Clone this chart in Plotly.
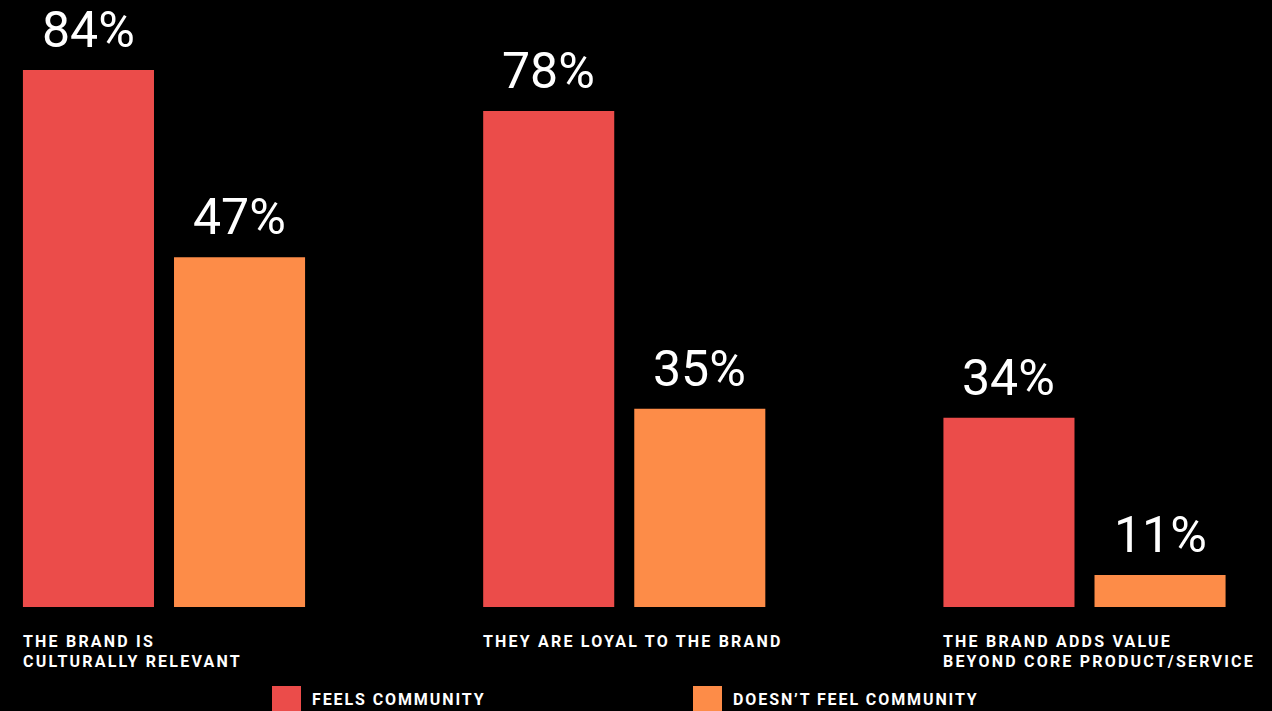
import plotly.graph_objects as go

categories = ["THE BRAND IS<br>CULTURALLY RELEVANT",
              "THEY ARE LOYAL TO THE BRAND",
              "THE BRAND ADDS VALUE<br>BEYOND CORE PRODUCT/SERVICE"]
series_names = ["FEELS COMMUNITY", "DOESN\u2019T FEEL COMMUNITY"]
# percentage labels printed on the chart
feels_labels = ["84%", "78%", "34%"]
not_feels_labels = ["47%", "35%", "11%"]
# bar heights as drawn in the picture (same scale as 84%)
feels_heights = [84, 77.6, 29.6]
not_feels_heights = [54.7, 31.0, 5.0]

RED = "#EB4C4A"
ORANGE = "#FD8C48"
W, H = 1272, 711
BOTTOM = 104
xpos = [0, 1, 2]

fig = go.Figure()
fig.add_trace(go.Bar(x=xpos, y=feels_heights, name=series_names[0], marker_color=RED,
                     marker_line_width=0, showlegend=False))
fig.add_trace(go.Bar(x=xpos, y=not_feels_heights, name=series_names[1], marker_color=ORANGE,
                     marker_line_width=0, showlegend=False))

px_per_unit = 460.25
x0 = -164 / px_per_unit
x1 = x0 + W / px_per_unit
bargap = 0.3435
bargroupgap = 0.1325
slot = (1 - bargap) / 2
left_off = slot - slot * bargroupgap / 2
center_off = slot / 2

annotations = []
for i in range(3):
    for heights, labels, sign in ((feels_heights, feels_labels, -1),
                                  (not_feels_heights, not_feels_labels, 1)):
        annotations.append(dict(x=xpos[i] + sign * center_off, xref="x", xanchor="center",
                                y=heights[i], yref="y", yanchor="bottom", yshift=9,
                                text=labels[i], showarrow=False,
                                font=dict(family="Roboto", size=50, color="white")))

for i, c in enumerate(categories):
    annotations.append(dict(x=xpos[i] - left_off, xref="x", xanchor="left", xshift=-2,
                            y=0, yref="paper", yanchor="top", yshift=-23,
                            text=c, showarrow=False, align="left",
                            font=dict(family="Roboto", size=16, color="white", weight="bold")))

shapes = []
legend_items = [(272, RED, series_names[0]), (693, ORANGE, series_names[1])]
plot_h = H - BOTTOM
for lx, col, name in legend_items:
    shapes.append(dict(type="rect", xref="paper", yref="paper",
                       x0=lx / W, x1=(lx + 29) / W,
                       y0=(plot_h - 686) / plot_h, y1=(plot_h - 720) / plot_h,
                       fillcolor=col, line_width=0, layer="above"))
    annotations.append(dict(x=(lx + 41) / W, xref="paper", xanchor="left", xshift=-3,
                            y=(plot_h - 699) / plot_h, yref="paper", yanchor="middle",
                            text=name, showarrow=False, align="left",
                            font=dict(family="Roboto", size=16, color="white", weight="bold")))

fig.update_layout(
    width=W, height=H,
    margin=dict(l=0, r=0, t=0, b=BOTTOM, pad=0),
    paper_bgcolor="black", plot_bgcolor="black",
    barmode="group", bargap=bargap, bargroupgap=bargroupgap,
    xaxis=dict(range=[x0, x1], visible=False, fixedrange=True),
    yaxis=dict(range=[0, plot_h / (537 / 84)], visible=False, fixedrange=True),
    annotations=annotations, shapes=shapes,
)

post_script = """
document.querySelectorAll('.annotation-text').forEach(function(t){
  if ((t.getAttribute('style') || '').indexOf('font-size: 16px') >= 0) {
    var txt = t.textContent || '';
    t.style.letterSpacing = (txt.indexOf('COMMUNITY') >= 0) ? '1.9px' : '2.2px';
    var spans = t.querySelectorAll('tspan.line');
    if (spans.length > 1) {
      spans[1].setAttribute('dy', '20');
    }
  }
});
"""
fig.write_html("out.html", config={"displayModeBar": False}, post_script=post_script)
